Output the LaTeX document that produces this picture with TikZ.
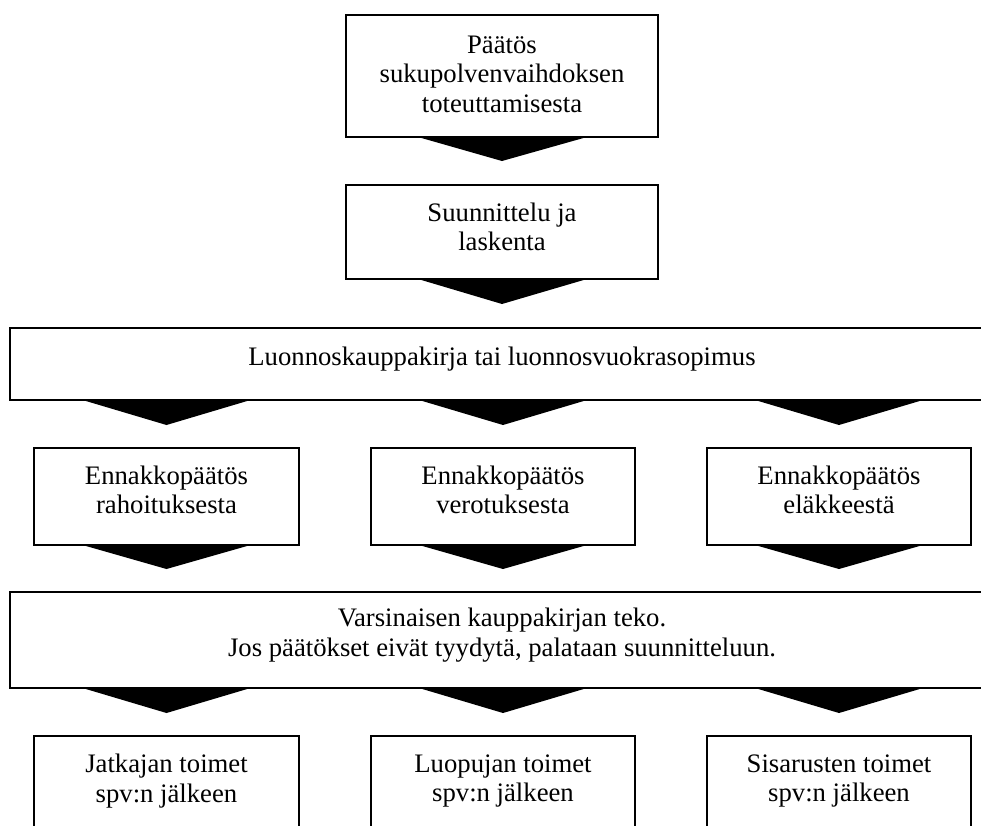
\documentclass[tikz,border=0pt]{standalone}
\usepackage{fontspec}
\setmainfont{Liberation Serif}
\usetikzlibrary{calc}
\newcommand\diafs{\fontsize{26.7}{29.5}\selectfont}
\tikzset{
  box/.style={draw, line width=1.6pt, inner sep=0pt, outer sep=0pt, anchor=north west},
  lbl/.style={font=\diafs, align=center, inner sep=0pt, outer sep=0pt},
  chev/.style={fill=black, draw=none}
}
\begin{document}
\begin{tikzpicture}[x=1pt,y=-1pt]
\useasboundingbox (0,0) rectangle (981,825);
\fill[white] (0,0) rectangle (981,825);
\begin{scope}
\clip (0,0) rectangle (981,825);
% boxes
\node[box, minimum width=312pt, minimum height=122pt] (b1) at (346,15) {};
\node[box, minimum width=312pt, minimum height=94pt] (b2) at (346,185) {};
\node[box, minimum width=984pt, minimum height=72pt] (w1) at (10,328) {};
\node[box, minimum width=265pt, minimum height=97pt] (e1) at (34,448) {};
\node[box, minimum width=264pt, minimum height=97pt] (e2) at (371,448) {};
\node[box, minimum width=264pt, minimum height=97pt] (e3) at (707,448) {};
\node[box, minimum width=984pt, minimum height=96pt] (w2) at (10,592) {};
\node[box, minimum width=265pt, minimum height=110pt] (j1) at (34,736) {};
\node[box, minimum width=264pt, minimum height=110pt] (j2) at (371,736) {};
\node[box, minimum width=264pt, minimum height=110pt] (j3) at (707,736) {};
% texts
\node[lbl] (b1t) at ([yshift=2pt]b1.center) {Päätös\\sukupolvenvaihdoksen\\toteuttamisesta};
\node[lbl] (b2t) at ([yshift=5pt]b2.center) {Suunnittelu ja\\laskenta};
\node[lbl] (w1t) at ([yshift=5pt]w1.center) {Luonnoskauppakirja tai luonnosvuokrasopimus};
\node[lbl] (e1t) at ([yshift=6.5pt]e1.center) {Ennakkopäätös\\rahoituksesta};
\node[lbl] (e2t) at ([yshift=6.5pt]e2.center) {Ennakkopäätös\\verotuksesta};
\node[lbl] (e3t) at ([yshift=6.5pt]e3.center) {Ennakkopäätös\\eläkkeestä};
\node[lbl] (w2t) at ([yshift=5pt]w2.center) {Varsinaisen kauppakirjan teko.\\Jos päätökset eivät tyydytä, palataan suunnitteluun.};
\node[lbl] (j1t) at ([yshift=-45pt]j1.north) {Jatkajan toimet\\spv:n jälkeen};
\node[lbl] (j2t) at ([yshift=-45pt]j2.north) {Luopujan toimet\\spv:n jälkeen};
\node[lbl] (j3t) at ([yshift=-45pt]j3.north) {Sisarusten toimet\\spv:n jälkeen};
% chevron arrows
\fill[chev] ($(b1.south)+(-84,0)$) -- ($(b1.south)+(85,0)$) -- ($(b1.south)+(0,24)$) -- cycle;
\fill[chev] ($(b2.south)+(-84,0)$) -- ($(b2.south)+(85,0)$) -- ($(b2.south)+(0,25)$) -- cycle;
\foreach \t in {e1,e2,e3}{
  \fill[chev] ($(w1.south -| \t.north)+(-84,0)$) -- ($(w1.south -| \t.north)+(84,0)$) -- ($(w1.south -| \t.north)+(0,25)$) -- cycle;
  \fill[chev] ($(\t.south)+(-84,0)$) -- ($(\t.south)+(84,0)$) -- ($(\t.south)+(0,24)$) -- cycle;
}
\foreach \t in {j1,j2,j3}{
  \fill[chev] ($(w2.south -| \t.north)+(-84,0)$) -- ($(w2.south -| \t.north)+(84,0)$) -- ($(w2.south -| \t.north)+(0,25)$) -- cycle;
}
\end{scope}
\end{tikzpicture}
\end{document}
